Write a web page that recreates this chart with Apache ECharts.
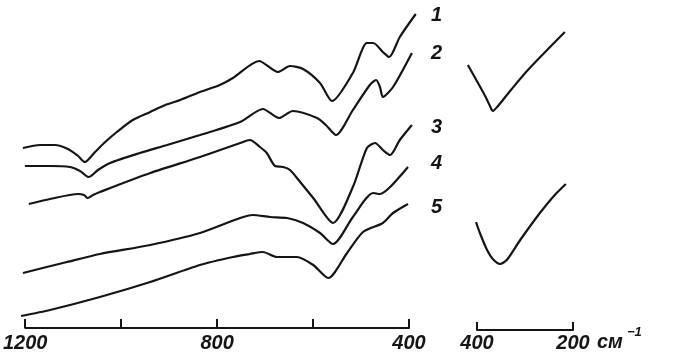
<!DOCTYPE html>
<html>
<head>
<meta charset="utf-8">
<script src="https://cdn.jsdelivr.net/npm/echarts@6/dist/echarts.min.js"></script>
<style>
html,body{margin:0;padding:0;background:#fff;}
#c{width:681px;height:360px;}
</style>
</head>
<body>
<div id="c"></div>
<script>
// Main panel: wavenumber (cm-1) vs. relative transmittance (arbitrary units, curves offset)
const curve1 = [[1198,180],[1163,183],[1132,183],[1105,179],[1084,172],[1070,166],[1049,176],[1028,186],[1004,196],[971,208],[935,216],[904,223],[873,228],[832,236],[791,243],[764,250],[710,267],[671,256],[646,262],[619,259],[584,245],[559,227],[516,255],[487,285],[474,285],[454,276],[441,271],[419,291],[386,314]];
const curve2 = [[1194,162],[1142,162],[1101,161],[1080,157],[1062,151],[1043,158],[1018,165],[956,175],[900,183],[832,193],[749,206],[702,219],[669,210],[640,217],[590,210],[572,203],[551,193],[516,218],[481,243],[468,248],[460,241],[454,231],[433,241],[394,275]];
const curve3 = [[1186,124],[1142,129],[1084,134],[1072,133],[1064,130],[1053,133],[1039,136],[935,155],[832,171],[749,185],[729,188],[708,181],[694,175],[677,162],[660,161],[646,158],[625,146],[598,130],[557,105],[516,141],[487,180],[470,185],[454,178],[439,173],[419,188],[394,203]];
const curve4 = [[1198,55],[1107,66],[1039,74],[935,83],[832,95],[749,110],[723,113],[687,111],[652,110],[619,105],[584,95],[557,84],[516,111],[474,135],[460,134],[439,141],[402,161]];
const curve5 = [[1202,12],[1142,18],[1039,31],[935,46],[832,63],[764,71],[729,74],[702,76],[673,71],[632,71],[598,63],[567,50],[528,75],[495,96],[454,105],[433,115],[402,124]];
// Inset panel (400-200 cm-1)
const insetUpper = [[419,265],[383,234],[373,224],[367,219],[358,223],[331,239],[294,260],[217,298]];
const insetLower = [[402,108],[394,97],[379,80],[367,71],[352,66],[338,70],[310,90],[269,117],[238,135],[215,146]];
const curveNames = ['1','2','3','4','5'];
const mainTickLabels = {1200:'1200',800:'800',400:'400'};
const insetTickLabels = {400:'400',200:'200'};
const unitLabel = 'см';
const unitExp = '−1';

const ink = '#151515';
const font = {fontFamily:'Liberation Sans, Arial, sans-serif', fontStyle:'italic', fontWeight:'bold', fontSize:20, color:ink};
const gfont = 'italic bold 20px Liberation Sans';

const chart = echarts.init(document.getElementById('c'), null, {renderer:'canvas'});
function lineSeries(data, idx){
  return {type:'line', data:data, xAxisIndex:idx, yAxisIndex:idx, showSymbol:false, symbol:'none',
    smooth:0.25, clip:false, lineStyle:{color:ink, width:2.2}, silent:true, animation:false};
}
const hiddenY = gi => ({gridIndex:gi, type:'value', min:0, max:328, show:false});
const option = {
  backgroundColor:'#ffffff',
  animation:false,
  grid:[
    // data grids (slightly wider range so curve ends can pass the axis ends)
    {left:7.4875, top:0, width:416.025, height:328},
    {left:457.8, top:2, width:124.8, height:328},
    // visible axis grids
    {left:22, top:0, width:387, height:328},
    {left:477, top:2, width:96, height:328}
  ],
  xAxis:[
    {gridIndex:0, type:'value', min:370, max:1230, inverse:true, show:false},
    {gridIndex:1, type:'value', min:180, max:440, inverse:true, show:false},
    {gridIndex:2, type:'value', min:400, max:1200, interval:200, inverse:true,
      axisLine:{show:true, lineStyle:{color:ink, width:2}},
      axisTick:{show:true, inside:true, length:9, lineStyle:{color:ink, width:2}},
      splitLine:{show:false},
      axisLabel:Object.assign({margin:5, formatter:v=>mainTickLabels[v]||''}, font)},
    {gridIndex:3, type:'value', min:200, max:400, interval:200, inverse:true,
      axisLine:{show:true, lineStyle:{color:ink, width:2}},
      axisTick:{show:true, inside:true, length:8, lineStyle:{color:ink, width:2}},
      splitLine:{show:false},
      axisLabel:Object.assign({margin:3, formatter:v=>insetTickLabels[v]||''}, font)}
  ],
  yAxis:[hiddenY(0), hiddenY(1), hiddenY(2), hiddenY(3)],
  series:[
    lineSeries(curve1,0), lineSeries(curve2,0), lineSeries(curve3,0), lineSeries(curve4,0), lineSeries(curve5,0),
    lineSeries(insetUpper,1), lineSeries(insetLower,1)
  ],
  graphic:[
    {type:'text', left:431, top:5, style:{text:curveNames[0], font:gfont, fill:ink}},
    {type:'text', left:431, top:43, style:{text:curveNames[1], font:gfont, fill:ink}},
    {type:'text', left:431, top:117, style:{text:curveNames[2], font:gfont, fill:ink}},
    {type:'text', left:431, top:153, style:{text:curveNames[3], font:gfont, fill:ink}},
    {type:'text', left:431, top:197, style:{text:curveNames[4], font:gfont, fill:ink}},
    {type:'text', left:597, top:332, style:{text:unitLabel, font:gfont, fill:ink}},
    {type:'text', left:627, top:326, style:{text:unitExp, font:'italic bold 13px Liberation Sans', fill:ink}}
  ]
};
chart.setOption(option);
</script>
</body>
</html>
